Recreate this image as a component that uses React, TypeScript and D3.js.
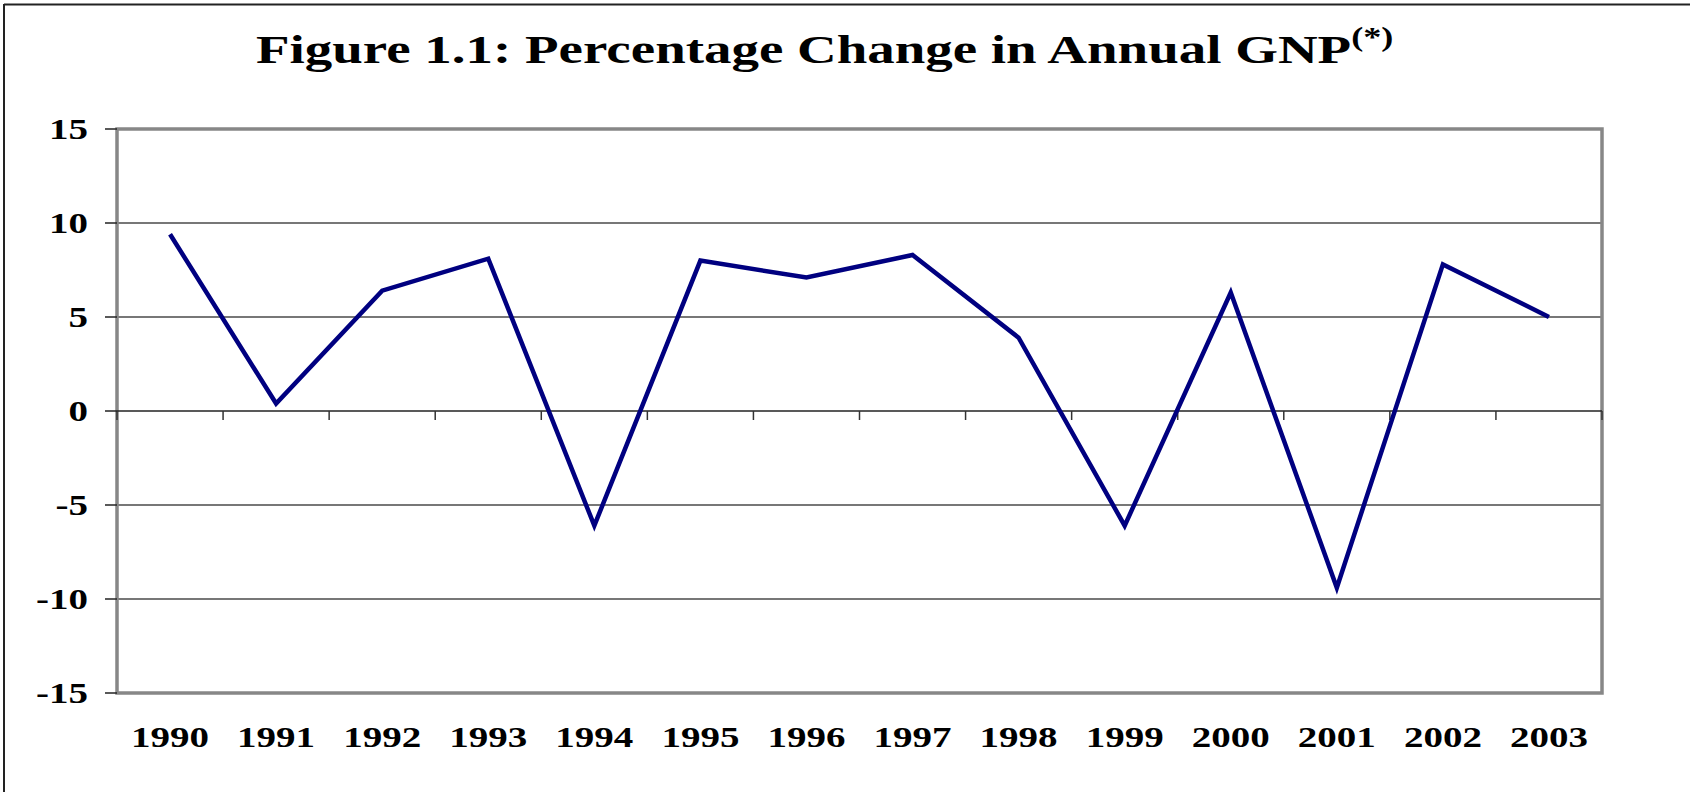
import React, { useEffect, useRef } from 'react';
import * as d3 from 'd3';

const years = ['1990', '1991', '1992', '1993', '1994', '1995', '1996', '1997', '1998', '1999', '2000', '2001', '2002', '2003'];
const gnpChange = [9.4, 0.4, 6.4, 8.1, -6.1, 8.0, 7.1, 8.3, 3.9, -6.1, 6.3, -9.4, 7.8, 5.0];
const yTicks = [15, 10, 5, 0, -5, -10, -15];

const W = 1690;
const H = 792;
const STRETCH = 1.3; // text in the original is stretched horizontally

const App = () => {
    const ref = useRef<SVGSVGElement>(null);

    useEffect(() => {
        if (!ref.current) return;
        const svg = d3.select(ref.current);
        svg.selectAll('*').remove();

        const plot = { left: 117, right: 1602, top: 129, bottom: 693 };
        const font = '"Liberation Serif", "Times New Roman", serif';

        const x = d3.scaleBand().domain(years).range([plot.left, plot.right]);
        const y = d3.scaleLinear().domain([-15, 15]).range([plot.bottom, plot.top]);

        // page frame (top and left edges only visible)
        svg.append('line').attr('x1', 4).attr('x2', W).attr('y1', 4.5).attr('y2', 4.5)
            .attr('stroke', '#222').attr('stroke-width', 2);
        svg.append('line').attr('x1', 4).attr('x2', 4).attr('y1', 4).attr('y2', H)
            .attr('stroke', '#222').attr('stroke-width', 2);

        // title
        const title = svg.append('text')
            .attr('transform', `translate(256,63) scale(1.34,1)`)
            .attr('font-family', font).attr('font-weight', 'bold').attr('font-size', 41)
            .attr('fill', '#000');
        title.append('tspan').text('Figure 1.1: Percentage Change in Annual GNP');
        title.append('tspan').attr('font-size', 27).attr('dy', -17).text('(*)');

        // gridlines
        svg.append('g').selectAll('line')
            .data(yTicks.filter(d => d !== 0 && d !== 15 && d !== -15))
            .join('line')
            .attr('x1', plot.left).attr('x2', plot.right)
            .attr('y1', d => y(d)).attr('y2', d => y(d))
            .attr('stroke', '#4a4a4a').attr('stroke-width', 1.5);

        // plot area border
        svg.append('rect')
            .attr('x', plot.left).attr('y', plot.top)
            .attr('width', plot.right - plot.left).attr('height', plot.bottom - plot.top)
            .attr('fill', 'none').attr('stroke', '#878787').attr('stroke-width', 3.5);

        // zero axis with category ticks
        svg.append('line')
            .attr('x1', plot.left).attr('x2', plot.right)
            .attr('y1', y(0)).attr('y2', y(0))
            .attr('stroke', '#222').attr('stroke-width', 1.5);
        const bounds = years.map(d => x(d) as number).concat([plot.right]);
        svg.append('g').selectAll('line')
            .data(bounds)
            .join('line')
            .attr('x1', d => d).attr('x2', d => d)
            .attr('y1', y(0)).attr('y2', y(0) + 9)
            .attr('stroke', '#333').attr('stroke-width', 1.5);

        // y ticks and labels
        svg.append('g').selectAll('line')
            .data(yTicks)
            .join('line')
            .attr('x1', plot.left - 12).attr('x2', plot.left)
            .attr('y1', d => y(d)).attr('y2', d => y(d))
            .attr('stroke', '#222').attr('stroke-width', 1.5);
        svg.append('g').selectAll('text')
            .data(yTicks)
            .join('text')
            .attr('transform', d => `translate(88,${y(d) + 10}) scale(${STRETCH},1)`)
            .attr('text-anchor', 'end')
            .attr('font-family', font).attr('font-weight', 'bold').attr('font-size', 30)
            .text(d => String(d));

        // x labels
        svg.append('g').selectAll('text')
            .data(years)
            .join('text')
            .attr('transform', d => `translate(${(x(d) as number) + x.bandwidth() / 2},747) scale(${STRETCH},1)`)
            .attr('text-anchor', 'middle')
            .attr('font-family', font).attr('font-weight', 'bold').attr('font-size', 30)
            .text(d => d);

        // series line
        const line = d3.line<number>()
            .x((_, i) => (x(years[i]) as number) + x.bandwidth() / 2)
            .y(d => y(d));
        svg.append('path')
            .datum(gnpChange)
            .attr('fill', 'none')
            .attr('stroke', '#000080')
            .attr('stroke-width', 4.5)
            .attr('stroke-linejoin', 'miter')
            .attr('d', line);
    }, []);

    return (
        <svg
            ref={ref}
            width={W}
            height={H}
            style={{ position: 'absolute', left: 0, top: 0, background: '#fff' }}
        />
    );
};

export default App;
